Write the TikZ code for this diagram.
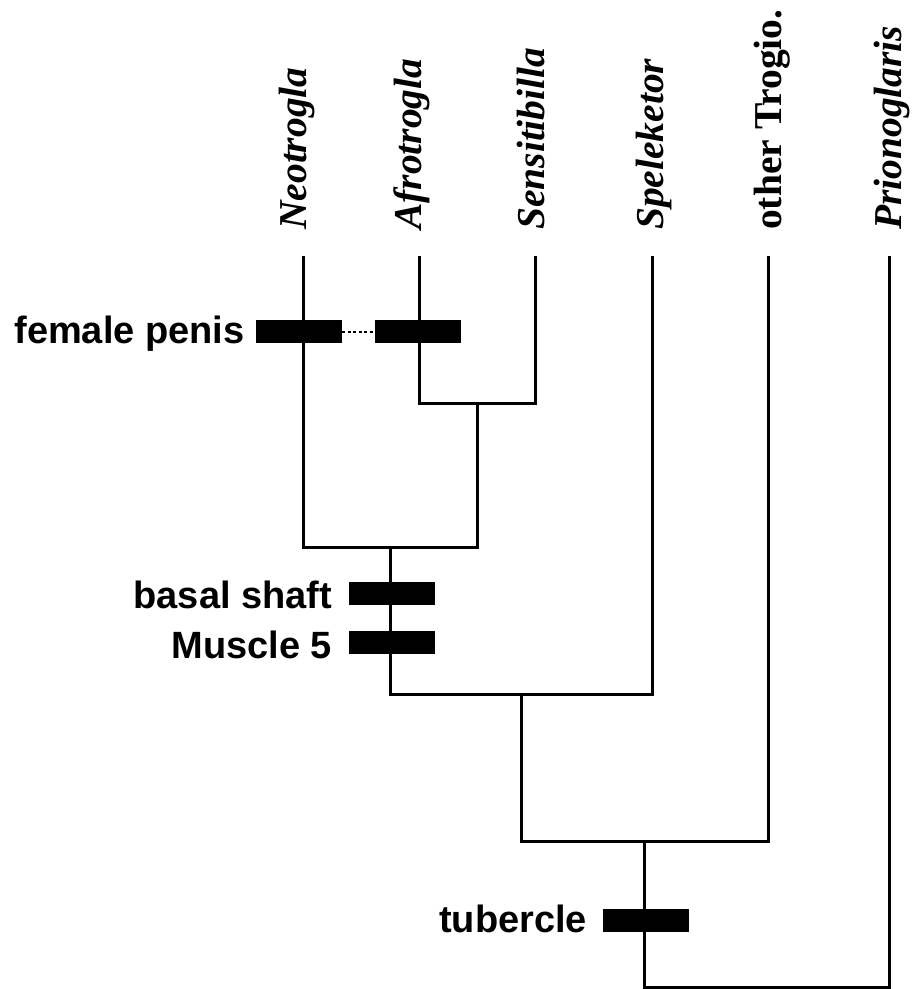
\documentclass[tikz,border=0pt]{standalone}
\usepackage{fontspec}
\setmainfont{Liberation Serif}
\setsansfont{Liberation Sans}
\begin{document}
\begin{tikzpicture}[x=1pt,y=1pt,
  branch/.style={line width=3pt, line join=miter},
  leaf/.style={rotate=90, anchor=base west, inner sep=0pt, font=\fontsize{39.5}{41}\selectfont\bfseries},
  charbar/.style={fill=black, draw=none, minimum width=86pt, minimum height=23pt, inner sep=0pt, rectangle},
  charlab/.style={anchor=base east, inner sep=0pt, font=\fontsize{38}{40}\selectfont\sffamily\bfseries},
  linkdots/.style={line width=2pt, dash pattern=on 3pt off 2.5pt}]
\useasboundingbox (0,0) rectangle (917,-989);
% leaf labels
\node[leaf] (lNeo) at (306,-230) {\textit{Neotrogla}};
\node[leaf] (lAfro) at (421,-230) {\textit{Afrotrogla}};
\node[leaf] (lSens) at (544,-230) {\textit{Sensitibilla}};
\node[leaf] (lSpel) at (663,-230) {\textit{Speleketor}};
\node[leaf] (lOth) at (781,-230) {other Trogio.};
\node[leaf] (lPrio) at (901,-230) {\textit{Prionoglaris}};
% tips
\coordinate (tNeo) at (303,-256);
\coordinate (tAfro) at (419.5,-256);
\coordinate (tSens) at (535.5,-256);
\coordinate (tSpel) at (652,-256);
\coordinate (tOth) at (768,-256);
\coordinate (tPrio) at (889,-256);
% internal nodes
\coordinate (n1) at (477.5,-403);
\coordinate (n2) at (390.5,-547);
\coordinate (n3) at (521.5,-694);
\coordinate (n4) at (644.5,-841);
\coordinate (root) at (766,-987);
% branches
\draw[branch] (tAfro) |- (n1) -| (tSens);
\draw[branch] (tNeo) |- (n2) -| (n1);
\draw[branch] (n2) |- (n3) -| (tSpel);
\draw[branch] (n3) |- (n4) -| (tOth);
\draw[branch] (n4) |- (root) -| (tPrio);
% character bars
\node[charbar] (fp1) at (299,-331.5) {};
\node[charbar] (fp2) at (417.5,-331.5) {};
\draw[linkdots] (fp1.east) -- (fp2.west);
\node[charbar] (bs) at (391.5,-593.5) {};
\node[charbar] (m5) at (391.5,-642.5) {};
\node[charbar] (tb) at (645.5,-920.5) {};
% character labels
\node[charlab] (lfp) at ([xshift=-11pt]fp1.south west) {female penis};
\node[charlab] (lbs) at ([xshift=-16pt,yshift=-3pt]bs.south west) {basal shaft};
\node[charlab] (lm5) at ([xshift=-16pt,yshift=-4pt]m5.south west) {Muscle 5};
\node[charlab] (ltb) at ([xshift=-15pt]tb.south west) {tubercle};
\end{tikzpicture}
\end{document}
